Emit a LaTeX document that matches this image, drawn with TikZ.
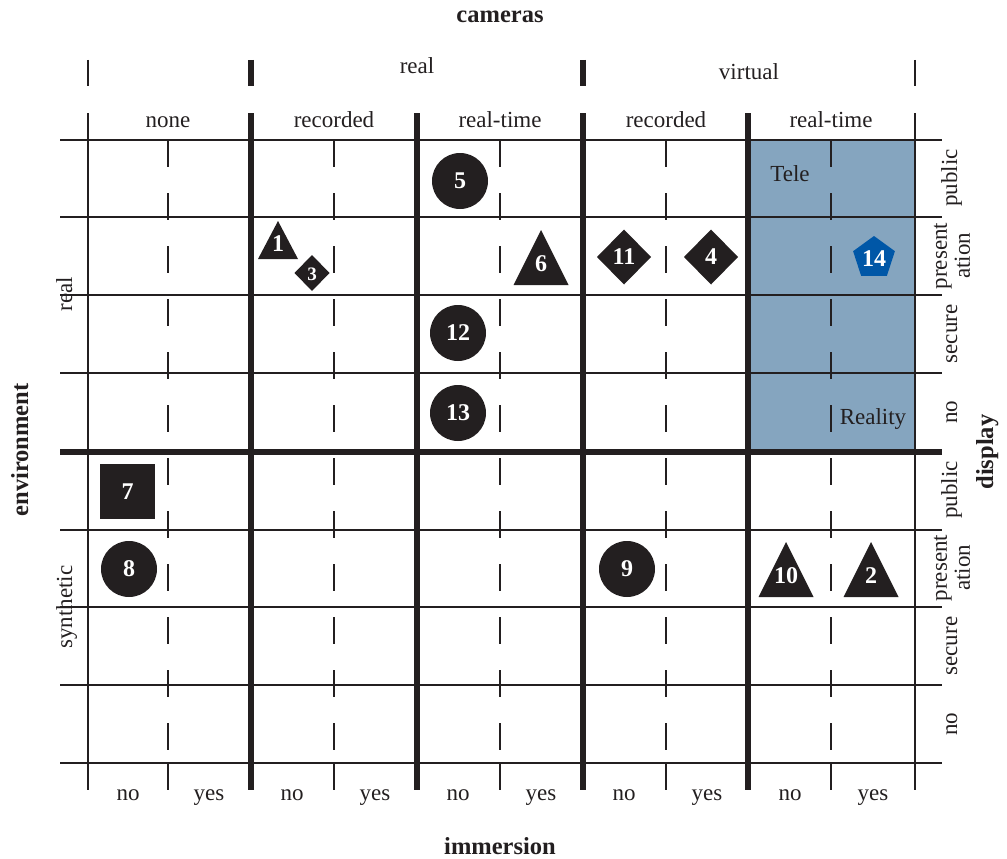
\documentclass[tikz,border=0pt]{standalone}
\usepackage{fontspec}
\setmainfont{Liberation Serif}
\definecolor{ink}{HTML}{231F20}
\definecolor{teleblue}{HTML}{85A5BF}
\definecolor{pentablue}{HTML}{0057A7}
\begin{document}
\begin{tikzpicture}[x=1pt,y=-1pt,
  gridthin/.style={line width=2.4pt, draw=ink},
  gridthick/.style={line width=6pt, draw=ink},
  griddash/.style={line width=2.4pt, draw=ink, dash pattern=on 26.5pt off 26.5pt},
  lab/.style={font=\fontsize{23}{23}\selectfont, text=ink, inner sep=0pt},
  axtitle/.style={font=\fontsize{24.5}{26}\selectfont\bfseries, text=ink, inner sep=0pt},
  num/.style={font=\fontsize{24}{24}\selectfont\bfseries, text=white, inner sep=0pt},
  smallnum/.style={font=\fontsize{19}{19}\selectfont\bfseries, text=white, inner sep=0pt},
  markerfill/.style={fill=ink}
]
\useasboundingbox (0,0) rectangle (1007,859);

% blue tele-reality region
\fill[teleblue] (748,140) rectangle (915,452);

% dashed sub-columns
\foreach \x in {168,334,500,666,831} {
  \draw[griddash] (\x,140) -- (\x,763);
  \draw[gridthin] (\x,763) -- (\x,790);
}

% horizontal lines
\foreach \y in {140,217,295,373,530,607,685,763}
  \draw[gridthin] (60,\y) -- (942,\y);
\draw[gridthick] (60,452) -- (942,452);

% vertical main lines
\foreach \x in {88,915}
  \draw[gridthin] (\x,113) -- (\x,790);
\foreach \x in {251,417,583,748}
  \draw[gridthick] (\x,113) -- (\x,790);

% upper header ticks
\draw[gridthin] (88,60) -- (88,86);
\draw[gridthin] (915,60) -- (915,86);
\draw[gridthick] (251,60) -- (251,86);
\draw[gridthick] (583,60) -- (583,86);

% titles
\node[axtitle, anchor=base] (tcam) at (500,23) {cameras};
\node[axtitle, anchor=base] (timm) at (500,854) {immersion};
\node[axtitle, anchor=base, rotate=90] (tenv) at (28,450) {environment};
\node[axtitle, anchor=base, rotate=90] (tdisp) at (993,452) {display};

% camera headers
\node[lab, anchor=base] (hreal) at (417,74) {real};
\node[lab, anchor=base] (hvirt) at (749,80) {virtual};
\node[lab, anchor=base] (c1) at (168,128) {none};
\node[lab, anchor=base] (c2) at (334,128) {recorded};
\node[lab, anchor=base] (c3) at (500,128) {real-time};
\node[lab, anchor=base] (c4) at (666,128) {recorded};
\node[lab, anchor=base] (c5) at (831,128) {real-time};

% immersion labels
\foreach \x/\t [count=\i] in {128/no,209/yes,292/no,375/yes,458/no,541/yes,624/no,707/yes,790/no,873/yes}
  \node[lab, anchor=base] (im\i) at (\x,800) {\t};

% environment labels
\node[lab, anchor=base, rotate=90] (ereal) at (72,294) {real};
\node[lab, anchor=base, rotate=90] (esyn) at (72,607) {synthetic};

% display labels
\foreach \yo/\k in {0/a,312/b} {
  \node[lab, anchor=base, rotate=90] (dpub\k) at (957,178+\yo) {public};
  \node[lab, rotate=90, align=center] (dpre\k) at (952,256+\yo) {present\\ation};
  \node[lab, anchor=base, rotate=90] (dsec\k) at (957,334+\yo) {secure};
  \node[lab, anchor=base, rotate=90] (dno\k) at (957,412+\yo) {no};
}

% Tele / Reality
\node[lab, anchor=base] (tele) at (790,181) {Tele};
\node[lab, anchor=base] (reality) at (873,424) {Reality};

% circles
\foreach \cx/\cy/\t in {460/181/5, 458/333/12, 458/413/13, 129/569/8, 627/569/9}
  \fill[markerfill] (\cx,\cy) circle (28);
\node[num] (n5) at (460,181) {5};
\node[num] (n12) at (458,333) {12};
\node[num] (n13) at (458,413) {13};
\node[num] (n8) at (129,569) {8};
\node[num] (n9) at (627,569) {9};

% square 7
\fill[markerfill] (100,464) rectangle (155,519);
\node[num] (n7) at (127.5,491.5) {7};

% diamonds
\fill[markerfill] (597,257) -- (624,229.5) -- (651,257) -- (624,284.5) -- cycle;
\node[num] (n11) at (624,257) {11};
\fill[markerfill] (684,257) -- (711,229.5) -- (738,257) -- (711,284.5) -- cycle;
\node[num] (n4) at (711,257) {4};
\fill[markerfill] (294.5,273) -- (312,255) -- (329.5,273) -- (312,291) -- cycle;
\node[smallnum] (n3) at (312,274) {3};

% triangles
\fill[markerfill] (513.5,285) -- (541,230) -- (568.5,285) -- cycle;
\node[num] (n6) at (541,264) {6};
\fill[markerfill] (758.5,597) -- (786,542) -- (813.5,597) -- cycle;
\node[num] (n10) at (786,576) {10};
\fill[markerfill] (843.5,597) -- (871,542) -- (898.5,597) -- cycle;
\node[num] (n2) at (871,576) {2};
\fill[markerfill] (258,259) -- (278,221) -- (298,259) -- cycle;
\node[num] (n1) at (278,244) {1};

% pentagon 14
\fill[pentablue] (874,236) -- (894.9,251.2) -- (886.9,275.8) -- (861.1,275.8) -- (853.1,251.2) -- cycle;
\node[num] (n14) at (874,259) {14};
\end{tikzpicture}
\end{document}
